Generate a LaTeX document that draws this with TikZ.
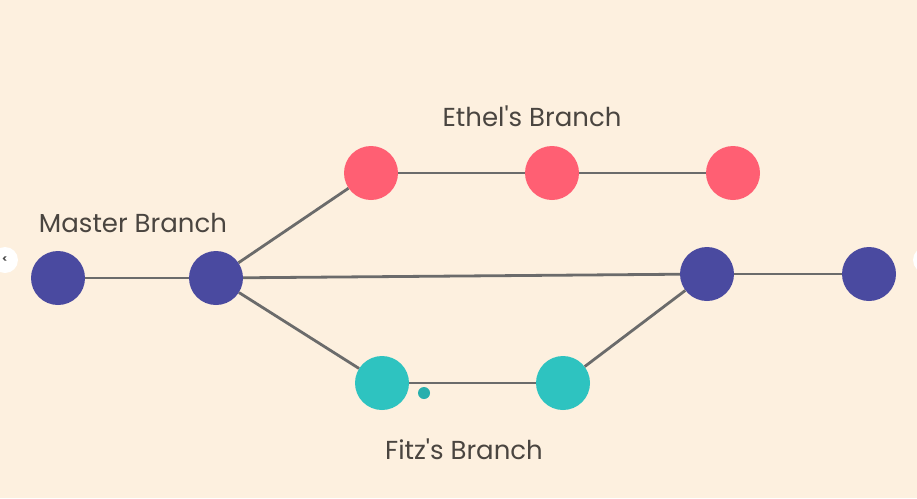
\documentclass[tikz,border=0pt]{standalone}
\usepackage{fontspec}
\setmainfont{Poppins}[Ligatures=TeXOff]
\definecolor{bgc}{HTML}{FDF0DF}
\definecolor{mblue}{HTML}{4A4AA0}
\definecolor{epink}{HTML}{FF5F73}
\definecolor{fteal}{HTML}{2EC3C0}
\definecolor{edgec}{HTML}{6B6B6B}
\definecolor{txtc}{HTML}{4A4540}
\begin{document}
\begin{tikzpicture}[x=1pt,y=-1pt,
  commit/.style={circle,minimum size=54pt,inner sep=0pt},
  mnode/.style={commit,fill=mblue},
  enode/.style={commit,fill=epink},
  fnode/.style={commit,fill=fteal},
  link/.style={draw=edgec,line width=2.8pt},
  lbl/.style={text=txtc,font=\fontsize{26}{30}\selectfont,inner sep=0pt},
  navbtn/.style={circle,fill=white,minimum size=26pt,inner sep=0pt}]
\fill[bgc] (0,0) rectangle (917,498);
\useasboundingbox (0,0) rectangle (917,498);
% nodes
\node[mnode] (m1) at (58,278) {};
\node[mnode] (m2) at (216,278) {};
\node[mnode] (m3) at (707,274) {};
\node[mnode] (m4) at (869,274) {};
\node[enode] (e1) at (371,173) {};
\node[enode] (e2) at (552,173) {};
\node[enode] (e3) at (733,173) {};
\node[fnode] (f1) at (382,383) {};
\node[fnode] (f2) at (563,383) {};
% edges
\path[link] (m1) -- (m2);
\path[link] (m2) -- (m3);
\path[link] (m3) -- (m4);
\path[link] (m2) -- (e1);
\path[link] (e1) -- (e2);
\path[link] (e2) -- (e3);
\path[link] (m2) -- (f1);
\path[link] (f1) -- (f2);
\path[link] (f2) -- (m3);
% small dot
\node[circle,fill=fteal!90!black,minimum size=12pt,inner sep=0pt] (dot) at (424,393) {};
% labels
\node[lbl] (lm) at (133,223) {Master Branch};
\node[lbl] (le) at (532,116) {Ethel's Branch};
\node[lbl] (lf) at (464,449) {Fitz's Branch};
% nav buttons
\node[navbtn] (navl) at (5,260) {};
\node[text=black!70,font=\fontsize{10}{10}\selectfont\bfseries] (navlt) at (navl) {<};
\node[navbtn] (navr) at (926,260) {};
\end{tikzpicture}
\end{document}
